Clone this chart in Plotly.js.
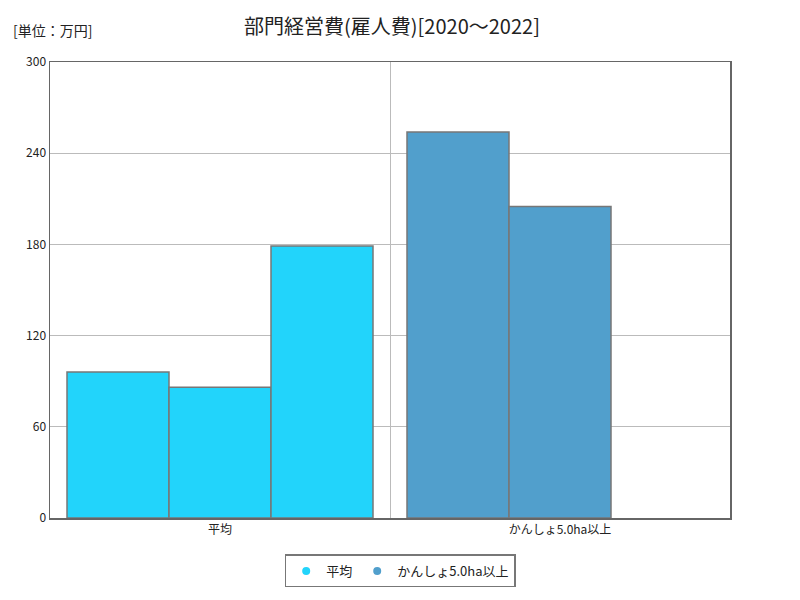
<!DOCTYPE html>
<html>
<head>
<meta charset="utf-8">
<script src="https://cdn.plot.ly/plotly-3.0.1.min.js"></script>
<style>body{margin:0;background:#fff;}#chart{width:800px;height:600px;}</style>
</head>
<body>
<div id="chart"></div>
<script>
const categories = ['平均', 'かんしょ5.0ha以上'];
const years = ['2020', '2021', '2022'];
const values2020 = [96, 254];
const values2021 = [86, 205];
const values2022 = [179, null];
const seriesColors = ['#22d4fb', '#519fcc'];
const yTicks = [0, 60, 120, 180, 240, 300];

const font = '"Noto Sans CJK JP", "Noto Sans", sans-serif';
const yearValues = [values2020, values2021, values2022];

const traces = yearValues.map((vals, i) => ({
  type: 'bar',
  name: years[i],
  x: categories,
  y: vals,
  marker: {color: seriesColors, line: {color: '#777777', width: 1.5}},
  showlegend: false,
  hoverinfo: 'x+y'
}));

categories.forEach((c, i) => {
  traces.push({
    type: 'scatter', mode: 'markers', name: c,
    x: [null], y: [null],
    marker: {color: seriesColors[i], size: 8, symbol: 'circle'},
    showlegend: true
  });
});

const layout = {
  width: 800, height: 600,
  margin: {l: 50, r: 70, t: 62, b: 80},
  paper_bgcolor: '#ffffff',
  plot_bgcolor: '#ffffff',
  font: {family: font, color: '#222'},
  barmode: 'group',
  bargap: 0.1,
  bargroupgap: 0,
  title: {text: '部門経営費(雇人費)[2020～2022]', x: 0.49, xanchor: 'center', y: 0.955, yanchor: 'middle',
          font: {family: font, size: 20, color: '#222'}},
  xaxis: {
    type: 'category', range: [-0.5, 1.5],
    tickson: 'boundaries', showgrid: true, gridcolor: '#bbbbbb', gridwidth: 1,
    ticks: '', showline: true, linecolor: '#666666', linewidth: 1.5, mirror: true,
    tickfont: {family: font, size: 12, color: '#222'}
  },
  yaxis: {
    range: [0, 300], tickvals: yTicks, ticktext: yTicks.map(String),
    showgrid: true, gridcolor: '#bbbbbb', gridwidth: 1,
    zeroline: false, ticks: '', showline: true, linecolor: '#666666', linewidth: 1.5, mirror: true,
    tickfont: {family: font, size: 12, color: '#222'}
  },
  showlegend: true,
  legend: {orientation: 'h', x: 0.515, xanchor: 'center', y: -0.08, yanchor: 'top',
           bordercolor: '#777777', borderwidth: 1.5, bgcolor: '#ffffff',
           font: {family: font, size: 13, color: '#222'}, itemwidth: 30},
  annotations: [{
    text: '[単位：万円]', xref: 'paper', yref: 'paper', x: -0.058, y: 1.07,
    xanchor: 'left', yanchor: 'middle', showarrow: false,
    font: {family: font, size: 14, color: '#222'}
  }]
};

Plotly.newPlot('chart', traces, layout, {displayModeBar: false, staticPlot: true});
</script>
</body>
</html>
